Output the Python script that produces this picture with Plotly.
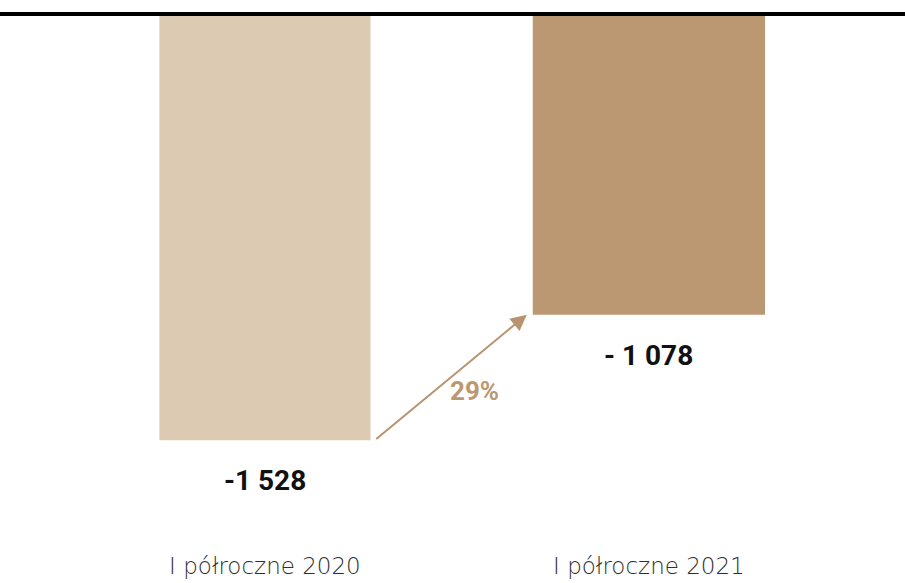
import plotly.graph_objects as go

categories = ["I półroczne 2020", "I półroczne 2021"]
values = [-1528, -1078]
value_labels = ["-1 528", "- 1 078"]
change_label = "29%"
bar_colors = ["#DCCAB3", "#BC9872"]

fig = go.Figure()
fig.add_trace(go.Bar(
    x=categories, y=values,
    marker=dict(color=bar_colors, line=dict(width=0)),
    width=[0.55, 0.605],
    hoverinfo="skip",
))

# value labels below each bar
for c, v, t in zip(categories, values, value_labels):
    fig.add_annotation(x=c, y=v, text=t, showarrow=False, yanchor="top", yshift=-22,
                       font=dict(family="Roboto", size=28, color="#111111", weight=700))

# arrow from bar 1 bottom to bar 2 bottom
x_tail, x_head = 0.286, 0.682
fig.add_annotation(x=x_head, y=values[1], ax=x_tail, ay=values[0],
                   xref="x", yref="y", axref="x", ayref="y",
                   showarrow=True, arrowhead=2, arrowsize=1.6, arrowwidth=2,
                   arrowcolor="#B8946E", text="")
frac = 0.654
fig.add_annotation(x=x_tail + frac * (x_head - x_tail),
                   y=values[0] + frac * (values[1] - values[0]),
                   text=change_label, showarrow=False, yshift=-33,
                   font=dict(family="Roboto", size=26, color="#BC9872", weight=700))

# top baseline (zero line, at the top of the value range)
fig.add_shape(type="line", xref="paper", yref="paper", x0=0, x1=1, y0=1, y1=1,
              line=dict(color="#000000", width=4), layer="above")

fig.update_layout(
    width=905, height=583,
    margin=dict(l=0, r=0, t=14, b=43),
    paper_bgcolor="white", plot_bgcolor="white",
    showlegend=False,
    xaxis=dict(range=[-0.690, 1.667], showgrid=False, zeroline=False, showline=False,
               ticks="", ticklabelstandoff=10,
               tickfont=dict(family="DejaVu Sans", size=23, color="#2E2E2E", weight=200)),
    yaxis=dict(range=[-1886, 0], visible=False, showgrid=False, zeroline=False),
)

fig.write_html("out.html")
